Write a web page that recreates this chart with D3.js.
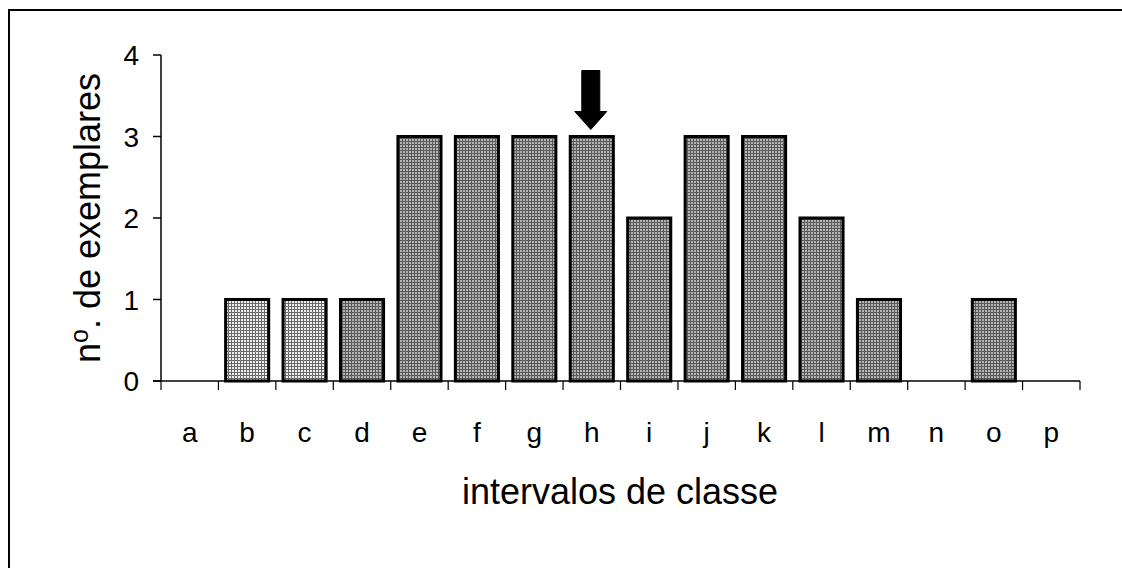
<!DOCTYPE html>
<html><head><meta charset="utf-8">
<script src="https://cdn.jsdelivr.net/npm/d3@7"></script>
<style>body{margin:0;background:#fff}svg{display:block}text{font-family:"Liberation Sans",Arial,sans-serif;fill:#000}</style>
</head><body>
<script>
const categories = ["a","b","c","d","e","f","g","h","i","j","k","l","m","n","o","p"];
const values = [0,1,1,1,3,3,3,3,2,3,3,2,1,0,1,0];
const lightCats = ["b","c"];
const yTicks = [0,1,2,3,4];
const arrowCat = "h";

const W=1122,H=568;
const svg=d3.select("body").append("svg").attr("width",W).attr("height",H);
const defs=svg.append("defs");
function pat(id,bg,line){
  const p=defs.append("pattern").attr("id",id).attr("width",3).attr("height",3).attr("patternUnits","userSpaceOnUse");
  p.append("rect").attr("width",3).attr("height",3).attr("fill",bg);
  p.append("rect").attr("width",3).attr("height",1).attr("fill",line);
  p.append("rect").attr("width",1).attr("height",3).attr("fill",line);
}
pat("pl","#f0f0f0","#6a6a6a");
pat("pd","#b4b4b4","#5a5a5a");

svg.append("rect").attr("x",9).attr("y",10).attr("width",1200).attr("height",700).attr("fill","none").attr("stroke","#000").attr("stroke-width",2);

const x=d3.scaleBand().domain(categories).range([161,1080]).paddingInner(0.25).paddingOuter(0.125);
const xb=d3.scaleBand().domain(categories).range([161,1080]);
const y=d3.scaleLinear().domain([0,4]).range([381,55]);

// bars
svg.selectAll("rect.bar").data(categories.map((c,i)=>({c,v:values[i]})).filter(d=>d.v>0))
 .enter().append("rect").attr("class","bar")
 .attr("x",d=>x(d.c)).attr("width",x.bandwidth())
 .attr("y",d=>y(d.v)).attr("height",d=>y(0)-y(d.v))
 .attr("fill",d=>lightCats.includes(d.c)?"url(#pl)":"url(#pd)")
 .attr("stroke","#000").attr("stroke-width",3);

// y axis
const ya=svg.append("g");
ya.append("line").attr("x1",161).attr("x2",161).attr("y1",y(4)).attr("y2",y(0)).attr("stroke","#000").attr("stroke-width",1.5);
yTicks.forEach(t=>{
  ya.append("line").attr("x1",153).attr("x2",161).attr("y1",y(t)).attr("y2",y(t)).attr("stroke","#000").attr("stroke-width",1.5);
  ya.append("text").attr("x",139).attr("y",y(t)).attr("dy","0.36em").attr("text-anchor","end").attr("font-size",28).text(t);
});
// x axis
const xa=svg.append("g");
xa.append("line").attr("x1",153).attr("x2",1080).attr("y1",y(0)).attr("y2",y(0)).attr("stroke","#000").attr("stroke-width",1.5);
categories.forEach((c,i)=>{
  const bx=xb(c)+xb.bandwidth();
  xa.append("line").attr("x1",bx).attr("x2",bx).attr("y1",y(0)).attr("y2",y(0)+9).attr("stroke","#000").attr("stroke-width",1.2);
  xa.append("text").attr("x",xb(c)+xb.bandwidth()/2).attr("y",442).attr("text-anchor","middle").attr("font-size",28).text(c);
});
{const bx=xb(categories[0]);xa.append("line").attr("x1",bx).attr("x2",bx).attr("y1",y(0)).attr("y2",y(0)+9).attr("stroke","#000").attr("stroke-width",1.2);}

// titles
svg.append("text").attr("x",620).attr("y",504).attr("text-anchor","middle").attr("font-size",36).text("intervalos de classe");
const yt=svg.append("text").attr("transform","translate(100,218) rotate(-90)").attr("text-anchor","middle").attr("font-size",36);
yt.append("tspan").text("n");
yt.append("tspan").attr("font-size",25).attr("dy","-12").text("o");
yt.append("tspan").attr("dy","12").text(". de exemplares");

// arrow
const ax=xb(arrowCat)+xb.bandwidth()/2-1, at=y(values[categories.indexOf(arrowCat)])-7;
svg.append("path").attr("d",`M${ax-9},${at-59} L${ax+9},${at-59} L${ax+9},${at-18} L${ax+16},${at-18} L${ax},${at} L${ax-16},${at-18} L${ax-9},${at-18} Z`)
 .attr("fill","#000").attr("stroke","#000").attr("stroke-width",1).attr("stroke-linejoin","round");
</script>
</body></html>
